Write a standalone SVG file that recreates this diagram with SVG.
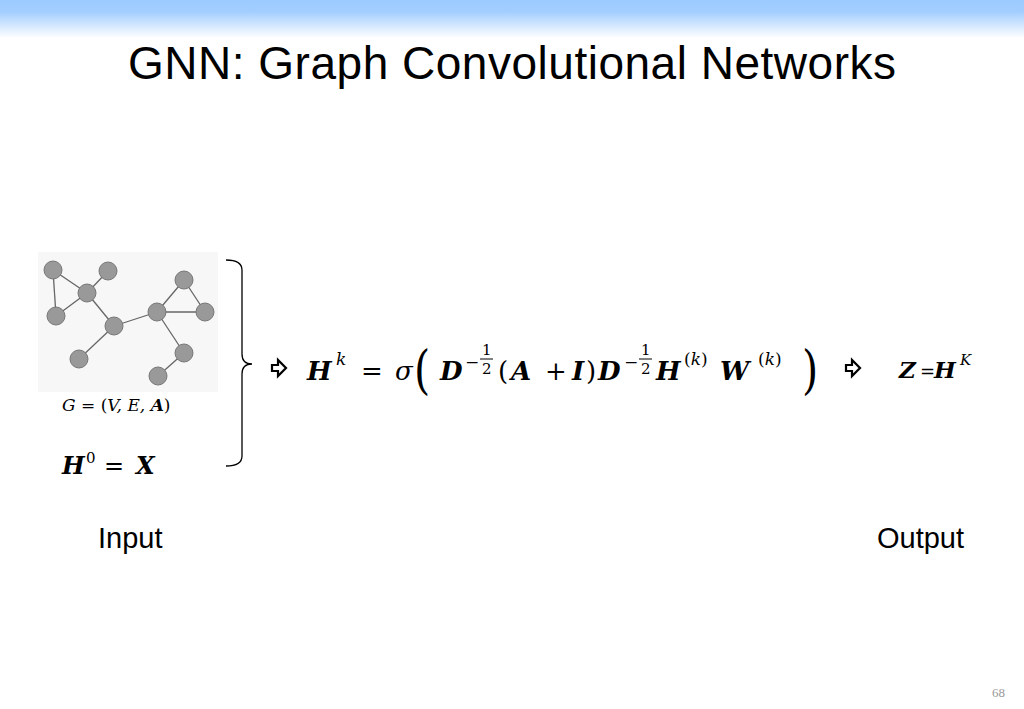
<svg xmlns="http://www.w3.org/2000/svg" width="1024" height="709" viewBox="0 0 1024 709">
<defs>
<linearGradient id="top" x1="0" y1="0" x2="0" y2="1">
<stop offset="0" stop-color="#9dcbff"/><stop offset="0.3" stop-color="#a2cdff"/><stop offset="1" stop-color="#ffffff"/>
</linearGradient>
<path id="arr" d="M0,-3 L6,-3 L6,-8 L14,0 L6,8 L6,3 L0,3 Z" fill="none" stroke="#000" stroke-width="2.2"/>
</defs>
<style>
.m{font-family:"DejaVu Serif",serif;font-style:italic;fill:#000}
.r{font-family:"DejaVu Serif",serif;fill:#000}
.b{font-weight:bold}
.s{font-family:"Liberation Sans",Arial,sans-serif;fill:#000}
.e{stroke:#666;stroke-width:1.3}
.n{fill:#999;stroke:#777;stroke-width:1}
</style>
<rect width="1024" height="709" fill="#fff"/>
<rect width="1024" height="38" fill="url(#top)"/>
<text class="s" x="512" y="79" font-size="46" text-anchor="middle" textLength="768">GNN: Graph Convolutional Networks</text>
<g id="graph">
<rect x="38" y="252" width="180" height="140" fill="#f7f7f7"/>
<g id="connectors">
<line class="e" x1="53" y1="270" x2="56" y2="316"/><line class="e" x1="53" y1="270" x2="87" y2="293"/>
<line class="e" x1="108" y1="271" x2="87" y2="293"/><line class="e" x1="87" y1="293" x2="56" y2="316"/>
<line class="e" x1="87" y1="293" x2="114" y2="326"/><line class="e" x1="114" y1="326" x2="79" y2="359"/>
<line class="e" x1="114" y1="326" x2="157" y2="312"/><line class="e" x1="157" y1="312" x2="184" y2="280"/>
<line class="e" x1="184" y1="280" x2="205" y2="312"/><line class="e" x1="157" y1="312" x2="205" y2="312"/>
<line class="e" x1="157" y1="312" x2="184" y2="353"/><line class="e" x1="184" y1="353" x2="158" y2="376"/>
</g>
<g id="n1"><circle class="n" cx="53" cy="270" r="9"/></g>
<g id="n2"><circle class="n" cx="108" cy="271" r="9"/></g>
<g id="n3"><circle class="n" cx="87" cy="293" r="9"/></g>
<g id="n4"><circle class="n" cx="56" cy="316" r="9"/></g>
<g id="n5"><circle class="n" cx="114" cy="326" r="9"/></g>
<g id="n6"><circle class="n" cx="157" cy="312" r="9"/></g>
<g id="n7"><circle class="n" cx="184" cy="280" r="9"/></g>
<g id="n8"><circle class="n" cx="205" cy="312" r="9"/></g>
<g id="n9"><circle class="n" cx="79" cy="359" r="9"/></g>
<g id="n10"><circle class="n" cx="184" cy="353" r="9"/></g>
<g id="n11"><circle class="n" cx="158" cy="376" r="9"/></g>
</g>
<text class="m" x="62" y="411" font-size="17">G <tspan font-style="normal">=</tspan> <tspan font-style="normal">(</tspan>V, E, <tspan class="b">A</tspan><tspan font-style="normal">)</tspan></text>
<text class="m b" x="62" y="474" font-size="24">H</text>
<text class="r" x="86" y="463" font-size="15">0</text>
<text class="r" x="104" y="474" font-size="24">=</text>
<text class="m b" x="136" y="474" font-size="24">X</text>
<path d="M226,260 Q242,260 242,270 L242,354 Q242,364 252,364 Q242,364 242,374 L242,456 Q242,466 226,466" fill="none" stroke="#000" stroke-width="1.3"/>
<use href="#arr" x="272" y="368"/>
<g font-size="26">
<text class="m b" x="307" y="380">H</text>
<text class="m" x="336" y="365" font-size="17">k</text>
<text class="r" x="361" y="380">=</text>
<text class="m" x="395" y="380">σ</text>
<text class="r" x="414" y="388" font-size="52" transform="translate(414 368) scale(0.8 1) translate(-414 -368)">(</text>
<text class="m b" x="440" y="380">D</text>
<text class="r" x="465" y="368" font-size="17">−</text>
<text class="r" x="482" y="355" font-size="15">1</text>
<line x1="480" y1="359" x2="493" y2="359" stroke="#000" stroke-width="1"/>
<text class="r" x="482" y="374" font-size="15">2</text>
<text class="r" x="498" y="380">(</text>
<text class="m b" x="511" y="380">A</text>
<text class="r" x="545" y="380">+</text>
<text class="m b" x="572" y="380">I</text>
<text class="r" x="586" y="380">)</text>
<text class="m b" x="598" y="380">D</text>
<text class="r" x="624" y="368" font-size="17">−</text>
<text class="r" x="641" y="355" font-size="15">1</text>
<line x1="639" y1="359" x2="652" y2="359" stroke="#000" stroke-width="1"/>
<text class="r" x="641" y="374" font-size="15">2</text>
<text class="m b" x="656" y="380">H</text>
<text class="m" x="684" y="365" font-size="17"><tspan font-style="normal">(</tspan>k<tspan font-style="normal">)</tspan></text>
<text class="m b" x="720" y="380">W</text>
<text class="m" x="758" y="365" font-size="17"><tspan font-style="normal">(</tspan>k<tspan font-style="normal">)</tspan></text>
<text class="r" x="802" y="388" font-size="52" transform="translate(802 368) scale(0.8 1) translate(-802 -368)">)</text>
</g>
<use href="#arr" x="846" y="368"/>
<text class="m b" x="899" y="378" font-size="23">Z</text>
<text class="r" x="920" y="378" font-size="18">=</text>
<text class="m b" x="934" y="378" font-size="23">H</text>
<text class="m" x="960" y="365" font-size="15">K</text>
<text class="s" x="98" y="548" font-size="29">Input</text>
<text class="s" x="877" y="548" font-size="29">Output</text>
<text x="1005" y="697" font-family="Liberation Serif,serif" font-size="13" fill="#999" text-anchor="end">68</text>
</svg>
